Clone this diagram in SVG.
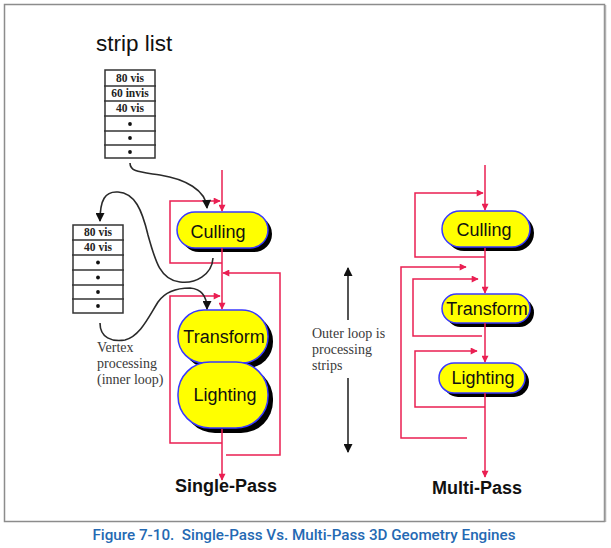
<svg xmlns="http://www.w3.org/2000/svg" width="611" height="548" viewBox="0 0 611 548">
<style>
.red{fill:none;stroke:#ea1f52;stroke-width:1.5}
.blk{fill:none;stroke:#2a2a2a;stroke-width:1.6}
.shadow{fill:#000}
.node{fill:#ffff00;stroke:#3838ff;stroke-width:1.5}
.nt{font-family:"Liberation Sans",Arial,sans-serif;font-size:18px;fill:#111;text-anchor:middle}
.title{font-family:"Liberation Sans",Arial,sans-serif;font-size:18px;font-weight:bold;fill:#111;text-anchor:middle}
.tbl{fill:#fff;stroke:#333;stroke-width:1.5}
.row{stroke:#333;stroke-width:1.3}
.tt{font-family:"Liberation Serif","Times New Roman",serif;font-size:11.5px;font-weight:bold;fill:#222;text-anchor:middle}
.note{font-family:"Liberation Serif","Times New Roman",serif;font-size:14px;fill:#3a3a3a}
</style>
<defs>
<marker id="ra" viewBox="0 0 10 10" refX="9" refY="5" markerWidth="8" markerHeight="7" markerUnits="userSpaceOnUse" orient="auto"><path d="M0,0 L10,5 L0,10 z" fill="#ea1f52"/></marker>
<marker id="ba" viewBox="0 0 10 10" refX="9" refY="5" markerWidth="11" markerHeight="9" markerUnits="userSpaceOnUse" orient="auto"><path d="M0,0 L10,5 L0,10 z" fill="#111"/></marker>
</defs>
<rect x="0" y="0" width="611" height="548" fill="#fff"/>
<rect x="4.5" y="4.5" width="600" height="517" fill="none" stroke="#8c8c8c" stroke-width="1.5"/>
<line x1="605.5" y1="5" x2="605.5" y2="522" stroke="#b0b0b0" stroke-width="1.5"/>

<text x="96" y="51" font-family="'Liberation Sans',Arial,sans-serif" font-size="22.5" fill="#111">strip list</text>

<g id="strip-list">
<rect class="tbl" x="105" y="70" width="50" height="88"/>
<line class="row" x1="104" y1="86" x2="156" y2="86"/>
<line class="row" x1="104" y1="101" x2="156" y2="101"/>
<line class="row" x1="104" y1="116" x2="156" y2="116"/>
<line class="row" x1="104" y1="131" x2="156" y2="131"/>
<line class="row" x1="104" y1="145" x2="156" y2="145"/>
<text class="tt" x="130" y="82">80 vis</text>
<text class="tt" x="130" y="97">60 invis</text>
<text class="tt" x="130" y="112">40 vis</text>
<circle cx="130" cy="124" r="1.9" fill="#111"/>
<circle cx="130" cy="138" r="1.9" fill="#111"/>
<circle cx="130" cy="152" r="1.9" fill="#111"/>
</g>

<g id="vertex-list">
<rect class="tbl" x="73" y="225" width="50" height="88"/>
<line class="row" x1="72" y1="240" x2="124" y2="240"/>
<line class="row" x1="72" y1="255" x2="124" y2="255"/>
<line class="row" x1="72" y1="270" x2="124" y2="270"/>
<line class="row" x1="72" y1="285" x2="124" y2="285"/>
<line class="row" x1="72" y1="299" x2="124" y2="299"/>
<text class="tt" x="98" y="236">80 vis</text>
<text class="tt" x="98" y="251">40 vis</text>
<circle cx="98" cy="262.5" r="1.9" fill="#111"/>
<circle cx="98" cy="277.5" r="1.9" fill="#111"/>
<circle cx="98" cy="292" r="1.9" fill="#111"/>
<circle cx="98" cy="306" r="1.9" fill="#111"/>
</g>

<g id="sp-culling">
<rect class="shadow" x="181" y="216" width="91" height="36" rx="18"/>
<rect class="node" x="177" y="212" width="91" height="36" rx="18"/>
<text class="nt" x="218" y="237.5">Culling</text>
</g>
<g id="sp-transform-lighting">
<rect class="shadow" x="183" y="315" width="90" height="53" rx="26"/>
<rect class="shadow" x="183" y="367" width="90" height="66" rx="32"/>
<rect class="node" x="178" y="310" width="90" height="53" rx="26"/>
<rect class="node" x="178" y="362" width="90" height="66" rx="32"/>
<text class="nt" x="224" y="342.5">Transform</text>
<text class="nt" x="225" y="400.5">Lighting</text>
</g>

<g id="mp-culling">
<rect class="shadow" x="446" y="215" width="88" height="36" rx="18"/>
<rect class="node" x="442" y="211" width="88" height="36" rx="18"/>
<text class="nt" x="484" y="235.5">Culling</text>
</g>
<g id="mp-transform">
<rect class="shadow" x="446" y="298" width="88" height="29" rx="14.5"/>
<rect class="node" x="442" y="294" width="88" height="29" rx="14.5"/>
<text class="nt" x="487" y="314.5">Transform</text>
</g>
<g id="mp-lighting">
<rect class="shadow" x="443" y="367" width="86" height="30" rx="15"/>
<rect class="node" x="439" y="363" width="86" height="30" rx="15"/>
<text class="nt" x="483" y="384">Lighting</text>
</g>

<g id="connectors">
<path class="red" d="M222,170 V211" marker-end="url(#ra)"/>
<path class="red" d="M222,248 V309" marker-end="url(#ra)"/>
<path class="red" d="M222,429 V480" marker-end="url(#ra)"/>
<path class="red" d="M222,263 H170 V201 H220" marker-end="url(#ra)"/>
<path class="red" d="M226,455 H280 V273 H223" marker-end="url(#ra)"/>
<path class="red" d="M222,443 H170 V296 H220" marker-end="url(#ra)"/>

<path class="red" d="M485,165 V210" marker-end="url(#ra)"/>
<path class="red" d="M485,248 V293" marker-end="url(#ra)"/>
<path class="red" d="M485,323 V362" marker-end="url(#ra)"/>
<path class="red" d="M485,393 V477" marker-end="url(#ra)"/>
<path class="red" d="M485,257 H415 V193 H483" marker-end="url(#ra)"/>
<path class="red" d="M467,438 H401 V267 H466" marker-end="url(#ra)"/>
<path class="red" d="M482,336 H413 V279 H478" marker-end="url(#ra)"/>
<path class="red" d="M485,407 H415 V351 H477" marker-end="url(#ra)"/>

<path class="blk" d="M130,163 C130,172 140,172 160,175 C185,179 206,190 207,208" marker-end="url(#ba)"/>
<path class="blk" d="M213,258 C212,275 195,284 180,282 C160,280 155,260 148,235 C142,210 135,193 118,192 C105,191 100,200 100,221" marker-end="url(#ba)"/>
<path class="blk" d="M100,323 C100,338 112,342 125,340 C140,336 148,318 158,302 C165,292 175,288 190,288 C202,289 207,297 207,309" marker-end="url(#ba)"/>

<path class="blk" d="M348,320 V268" marker-end="url(#ba)"/>
<path class="blk" d="M348,378 V452" marker-end="url(#ba)"/>
</g>

<text class="note" x="97" y="352">Vertex</text>
<text class="note" x="97" y="368">processing</text>
<text class="note" x="97" y="384">(inner loop)</text>

<text class="note" x="312" y="338">Outer loop is</text>
<text class="note" x="312" y="354">processing</text>
<text class="note" x="312" y="370">strips</text>

<text class="title" x="226" y="492">Single-Pass</text>
<text class="title" x="477" y="494">Multi-Pass</text>

<text x="304" y="540" text-anchor="middle" font-family="Roboto,'Open Sans',sans-serif" font-size="15" font-weight="500" fill="#2469b3" textLength="423" lengthAdjust="spacingAndGlyphs">Figure 7-10.&#160; Single-Pass Vs. Multi-Pass 3D Geometry Engines</text>
</svg>
